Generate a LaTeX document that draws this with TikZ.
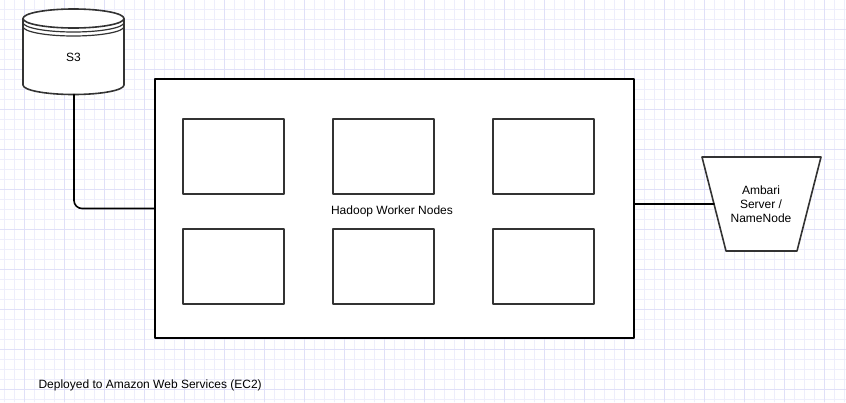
\documentclass[tikz,border=0pt]{standalone}
\usepackage{fontspec}
\setmainfont{Liberation Sans}
\definecolor{gridminor}{HTML}{EEEEFB}
\definecolor{gridmajor}{HTML}{E0E0F8}
\definecolor{boxline}{HTML}{333333}
\tikzset{
  drawtext/.style={font=\fontsize{12}{14}\selectfont},
  link/.style={black, line width=1.6pt},
  workerbox/.style={draw=boxline, line width=2pt, minimum width=101pt, minimum height=75pt, inner sep=0pt},
}

\begin{document}
\begin{tikzpicture}[x=1pt, y=-1pt, line cap=round, line join=round]

  % ============ Background grid ============
  \useasboundingbox (0,0) rectangle (846,402);
  \fill[white] (0,0) rectangle (846,402);
  \foreach \gx in {4,14,...,844} {
    \draw[gridminor, line width=0.8pt] (\gx,0) -- (\gx,402);
  }
  \foreach \gy in {9,19,...,399} {
    \draw[gridminor, line width=0.8pt] (0,\gy) -- (846,\gy);
  }
  \foreach \gx in {24,64,...,844} {
    \draw[gridmajor, line width=0.8pt] (\gx,0) -- (\gx,402);
  }
  \foreach \gy in {29,69,...,399} {
    \draw[gridmajor, line width=0.8pt] (0,\gy) -- (846,\gy);
  }

  % ============ S3 store ============
  \filldraw[fill=white, draw=boxline, line width=1.6pt]
    (23,18.5) -- (23,85) arc (180:0:50.5 and 9.5) -- (124,18.5) arc (0:-180:50.5 and 9.5) -- cycle;
  \draw[boxline, line width=1.6pt] (23,18.5) arc (180:0:50.5 and 9.5);
  \draw[boxline, line width=1.2pt] (23,22.5) arc (180:0:50.5 and 9.5);
  \draw[boxline, line width=1.2pt] (23,26.5) arc (180:0:50.5 and 9.5);
  \node[drawtext] (s3) at (73.5,57) {S3};
  \coordinate (s3bot) at (74,94.5);

  % ============ Worker cluster ============
  \node[draw, black, line width=1.2pt, fill=white, minimum width=479pt, minimum height=259pt,
        drawtext] (workers) at (394.5,208.5) {};
  \node[drawtext] (workerlabel) at (392,211) {Hadoop Worker Nodes};
  \foreach \name/\cx/\cy in {w1/233.5/156.5, w2/383.5/156.5, w3/543.5/156.5,
                            w4/233.5/266.5, w5/383.5/266.5, w6/543.5/266.5} {
    \node[workerbox] (\name) at (\cx,\cy) {};
  }

  % ============ Ambari server ============
  % inverted trapezoid, wide side on top
  \filldraw[fill=white, draw=boxline, line width=1.6pt]
    (702,157) -- (821,157) -- (797,251) -- (726,251) -- cycle;
  \node[align=center, drawtext] (ambari) at (761,204) {Ambari\\Server /\\NameNode};
  \coordinate (ambariwest) at (714,204);

  % connectors
  \draw[link, rounded corners=8pt] (s3bot) |- (workers.west);
  \draw[link] (ambariwest) -- (ambariwest -| workers.east);

  \node[drawtext, anchor=west] (deploy) at (35,385) {Deployed to Amazon Web Services (EC2)};

\end{tikzpicture}
\end{document}
